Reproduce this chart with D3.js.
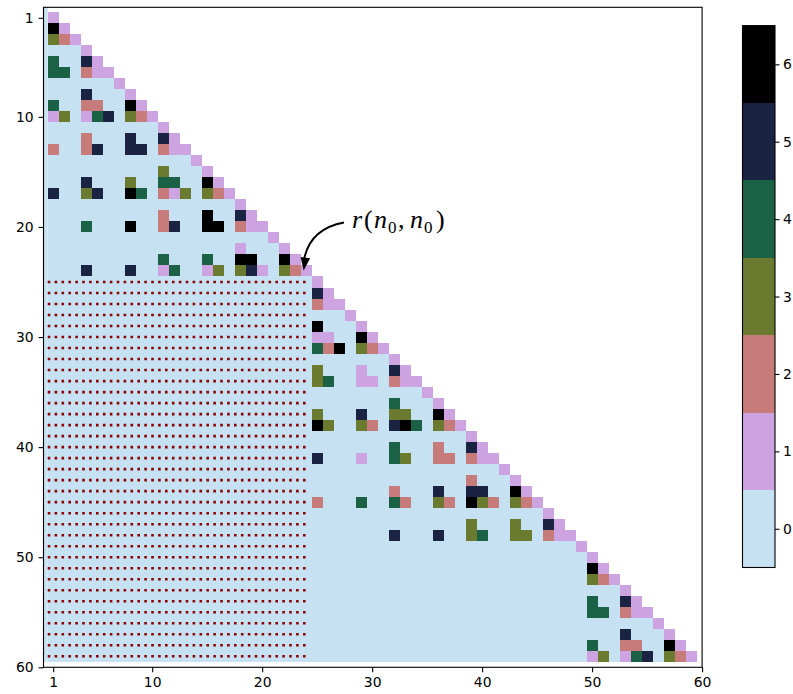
<!DOCTYPE html>
<html><head><meta charset="utf-8">
<script src="https://cdn.jsdelivr.net/npm/d3@7"></script>
<style>body{margin:0;background:#fff}</style>
</head><body>
<svg id="chart" width="793" height="694"></svg>
<script>
// ---------------- data ----------------
const nRows = 59;                       // rows / columns 1..59 (lower triangle incl. diagonal)
const rowTicks = [1, 10, 20, 30, 40, 50, 60];
const colTicks = [1, 10, 20, 30, 40, 50, 60];
const levels = [0, 1, 2, 3, 4, 5, 6];   // colour-bar levels
// non-zero cells [row, col, value]; every other cell with col <= row has value 0
const cells = [
 [1,1,1],
 [2,1,6],[2,2,1],
 [3,1,3],[3,2,2],[3,3,1],
 [4,4,1],
 [5,1,4],[5,4,5],[5,5,1],
 [6,1,4],[6,2,4],[6,4,2],[6,5,1],[6,6,1],
 [7,7,1],
 [8,4,5],[8,8,1],
 [9,1,4],[9,4,2],[9,5,2],[9,8,6],[9,9,1],
 [10,1,1],[10,2,3],[10,4,1],[10,5,4],[10,6,5],[10,8,3],[10,9,2],[10,10,1],
 [11,11,1],
 [12,4,2],[12,8,5],[12,11,5],[12,12,1],
 [13,1,2],[13,4,2],[13,5,5],[13,8,5],[13,9,5],[13,11,2],[13,12,1],[13,13,1],
 [14,14,1],
 [15,11,3],[15,15,1],
 [16,4,5],[16,8,3],[16,11,4],[16,12,4],[16,15,6],[16,16,1],
 [17,1,5],[17,4,3],[17,5,5],[17,8,6],[17,9,4],[17,11,2],[17,12,1],[17,13,3],[17,15,3],[17,16,2],[17,17,1],
 [18,18,1],
 [19,11,2],[19,15,6],[19,18,5],[19,19,1],
 [20,4,4],[20,8,6],[20,11,2],[20,12,5],[20,15,6],[20,16,6],[20,18,2],[20,19,1],[20,20,1],
 [21,21,1],
 [22,18,1],[22,22,1],
 [23,11,4],[23,15,4],[23,18,6],[23,19,6],[23,22,6],[23,23,1],
 [24,4,5],[24,8,5],[24,11,1],[24,12,4],[24,15,1],[24,16,3],[24,18,3],[24,19,5],[24,20,1],[24,22,3],[24,23,2],[24,24,1],
 [25,25,1],
 [26,25,5],[26,26,1],
 [27,25,2],[27,26,1],[27,27,1],
 [28,28,1],
 [29,25,6],[29,29,1],
 [30,25,1],[30,26,1],[30,29,6],[30,30,1],
 [31,25,4],[31,26,2],[31,27,6],[31,29,3],[31,30,2],[31,31,1],
 [32,32,1],
 [33,25,3],[33,29,1],[33,32,5],[33,33,1],
 [34,25,3],[34,26,4],[34,29,1],[34,30,1],[34,32,2],[34,33,1],[34,34,1],
 [35,35,1],
 [36,32,4],[36,36,1],
 [37,25,3],[37,29,5],[37,32,3],[37,33,3],[37,36,6],[37,37,1],
 [38,25,6],[38,26,3],[38,29,3],[38,30,2],[38,32,5],[38,33,6],[38,34,4],[38,36,3],[38,37,2],[38,38,1],
 [39,39,1],
 [40,32,4],[40,36,2],[40,39,5],[40,40,1],
 [41,25,5],[41,29,1],[41,32,4],[41,33,3],[41,36,2],[41,37,2],[41,39,2],[41,40,1],[41,41,1],
 [42,42,1],
 [43,39,2],[43,43,1],
 [44,32,2],[44,36,5],[44,39,5],[44,40,5],[44,43,6],[44,44,1],
 [45,25,2],[45,29,4],[45,32,4],[45,33,2],[45,36,3],[45,37,2],[45,39,6],[45,40,3],[45,41,2],[45,43,3],[45,44,2],[45,45,1],
 [46,46,1],
 [47,39,3],[47,43,3],[47,46,5],[47,47,1],
 [48,32,5],[48,36,5],[48,39,3],[48,40,4],[48,43,3],[48,44,3],[48,46,2],[48,47,1],[48,48,1],
 [49,49,1],
 [50,50,1],
 [51,50,6],[51,51,1],
 [52,50,3],[52,51,2],[52,52,1],
 [53,53,1],
 [54,50,4],[54,53,5],[54,54,1],
 [55,50,4],[55,51,4],[55,53,2],[55,54,1],[55,55,1],
 [56,56,1],
 [57,53,5],[57,57,1],
 [58,50,4],[58,53,2],[58,54,2],[58,57,6],[58,58,1],
 [59,50,1],[59,51,3],[59,53,1],[59,54,4],[59,55,5],[59,57,3],[59,58,2],[59,59,1]
];
// rows of the off-diagonal block marked with dotted lines, and the column span of those lines
const dottedRows = [25,26,27,28,29,30,31,32,33,34,35,36,37,38,39,40,41,42,43,44,45,46,47,48,49,50,51,52,53,54,55,56,57,58,59];
const dottedSpan = [0.5, 24];
const annotCell = [24, 24];

// ---------------- drawing ----------------
function cubehelix(x) {            // matplotlib 'cubehelix' (gamma=1, s=0.5, r=-1.5, h=1)
  const a = x * (1 - x) / 2, phi = 2 * Math.PI * (0.5 / 3 - 1.5 * x);
  const c = Math.cos(phi), s = Math.sin(phi);
  const f = (p0, p1) => Math.max(0, Math.min(1, x + a * (p0 * c + p1 * s)));
  return d3.rgb(255 * f(-0.14861, 1.78277), 255 * f(-0.29227, -0.90649), 255 * f(1.97294, 0)).formatHex();
}
const palette = levels.map(v => cubehelix((6 - v) / 7));
const color = d3.scaleOrdinal().domain(levels).range(palette);

const svg = d3.select("#chart");
const P = {left: 43.5, right: 702.1, top: 7.3, bottom: 667.3};
const x = d3.scaleLinear().domain([1, 60]).range([53.2, 702.1]);
const y = d3.scaleLinear().domain([1, 60]).range([17.8, 667.3]);
const font = "DejaVu Sans, sans-serif";
const intFmt = d3.format("d");

// full lower-triangle grid
const value = new Map(cells.map(d => [d[0] + "," + d[1], d[2]]));
const grid = [];
for (let r = 1; r <= nRows; r++) for (let c = 1; c <= r; c++) grid.push([r, c, value.get(r + "," + c) || 0]);

const g = svg.append("g");
// strip left of the first column
g.append("rect").attr("x", P.left).attr("y", P.top)
  .attr("width", x(0.5) - P.left).attr("height", y(nRows + 0.5) - P.top).attr("fill", color(0));
g.selectAll("rect.cell").data(grid).join("rect").attr("class", "cell")
  .attr("x", d => x(d[1] - 0.5)).attr("y", d => y(d[0] - 0.5))
  .attr("width", d => x(d[1] + 0.5) - x(d[1] - 0.5)).attr("height", d => y(d[0] + 0.5) - y(d[0] - 0.5))
  .attr("fill", d => color(d[2])).attr("shape-rendering", "crispEdges");

// dotted lines
g.selectAll("line.dot").data(dottedRows).join("line").attr("class", "dot")
  .attr("x1", x(dottedSpan[0])).attr("x2", x(dottedSpan[1]))
  .attr("y1", d => y(d)).attr("y2", d => y(d))
  .attr("stroke", "#8b0000").attr("stroke-width", 2.6).attr("stroke-dasharray", "2.6 4.3");

// frame
svg.append("rect").attr("x", P.left).attr("y", P.top).attr("width", P.right - P.left)
  .attr("height", P.bottom - P.top).attr("fill", "none").attr("stroke", "#000").attr("stroke-width", 1.1);

// axes
const yAxis = svg.append("g").attr("transform", `translate(${P.left},0)`)
  .call(d3.axisLeft(y).tickValues(rowTicks).tickFormat(intFmt).tickSize(4.9).tickPadding(5));
const xAxis = svg.append("g").attr("transform", `translate(0,${P.bottom})`)
  .call(d3.axisBottom(x).tickValues(colTicks).tickFormat(intFmt).tickSize(4.9).tickPadding(5));
[xAxis, yAxis].forEach(a => {
  a.select(".domain").remove();
  a.selectAll("line").attr("stroke", "#000").attr("stroke-width", 1.1);
  a.selectAll("text").attr("font-family", font).attr("font-size", 13.9).attr("fill", "#000");
});

// colour bar
const CB = {x: 742.5, w: 32.5, top: 25.6, bottom: 567.5};
const cy = d3.scaleLinear().domain([-0.5, 6.5]).range([CB.bottom, CB.top]);
svg.selectAll("rect.cb").data(levels).join("rect").attr("class", "cb")
  .attr("x", CB.x).attr("width", CB.w).attr("y", d => cy(d + 0.5)).attr("height", d => cy(d - 0.5) - cy(d + 0.5))
  .attr("fill", d => color(d)).attr("shape-rendering", "crispEdges");
svg.append("rect").attr("x", CB.x).attr("y", CB.top).attr("width", CB.w).attr("height", CB.bottom - CB.top)
  .attr("fill", "none").attr("stroke", "#000").attr("stroke-width", 1.1);
const cAxis = svg.append("g").attr("transform", `translate(${CB.x + CB.w},0)`)
  .call(d3.axisRight(cy).tickValues(levels).tickFormat(intFmt).tickSize(4.5).tickPadding(3.5));
cAxis.select(".domain").remove();
cAxis.selectAll("line").attr("stroke", "#000").attr("stroke-width", 1.1);
cAxis.selectAll("text").attr("font-family", font).attr("font-size", 13.9).attr("fill", "#000");

// annotation
const tip = [x(annotCell[1]) - 2.5, y(annotCell[0]) - 0.5];
const start = [344, 222.5];
const ctrl = [309, 229];
svg.append("path").attr("d", `M${start[0]},${start[1]} Q${ctrl[0]},${ctrl[1]} ${tip[0]},${tip[1] - 9}`)
  .attr("fill", "none").attr("stroke", "#000").attr("stroke-width", 2);
{
  const dx = tip[0] - ctrl[0], dy = tip[1] - ctrl[1], L = Math.hypot(dx, dy);
  const ux = dx / L, uy = dy / L, hl = 13, hw = 4.8;
  const bx = tip[0] - ux * hl, by = tip[1] - uy * hl;
  svg.append("path").attr("d", `M${tip[0]},${tip[1]} L${bx - uy * hw},${by + ux * hw} L${bx + uy * hw},${by - ux * hw} Z`)
    .attr("fill", "#000");
}
const t = svg.append("text").attr("y", 228).attr("font-family", "Liberation Serif, serif")
  .attr("font-size", 26).attr("fill", "#000");
const glyphs = [["r", 352, "italic", 26, 0], ["(", 364, "normal", 26, 0], ["n", 374, "italic", 26, 0],
  ["0", 388, "normal", 17, 5], [",", 398, "normal", 26, 0], ["n", 410, "italic", 26, 0],
  ["0", 424, "normal", 17, 5], [")", 436, "normal", 26, 0]];
glyphs.forEach(([s, gx, st, fs, dy]) => t.append("tspan").attr("x", gx).attr("y", 228 + dy)
  .attr("font-style", st).attr("font-size", fs).text(s));
</script>
</body></html>
